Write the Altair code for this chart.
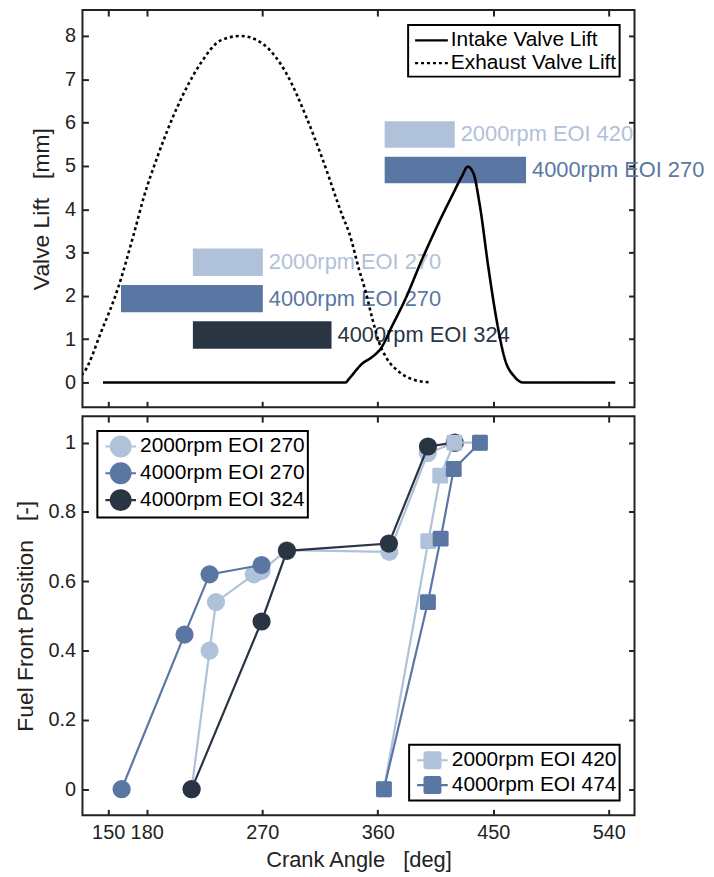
import altair as alt
import pandas as pd

# ---------------- data ----------------
XTICKS = [150, 180, 270, 360, 450, 540]

exh_deg = [112, 122, 128, 131.5, 144.6, 157.5, 170.3, 178, 188.4, 203.9, 221.9, 237.3, 253.3,
           270.8, 288.9, 304.3, 317.2, 332.6, 337.8, 345.5, 350.7, 355.8, 361, 366.1, 376.4, 389.3, 401]
exh_lift = [0.0, 0.05, 0.14, 0.25, 1.17, 2.16, 3.46, 4.3, 5.21, 6.36, 7.36, 7.89, 8.0,
            7.81, 7.13, 6.13, 5.14, 3.84, 3.45, 2.6, 2.08, 1.47, 0.93, 0.6, 0.25, 0.05, 0.0]

int_deg = [146, 335, 337.8, 348.1, 355.8, 362.3, 371.3, 381.6, 394.5, 410, 417.7, 425.4, 430.1,
           434.5, 439.6, 446, 452.4, 458.9, 466.6, 473, 545]
int_lift = [0, 0, 0.09, 0.44, 0.59, 0.78, 1.31, 1.93, 2.84, 3.84, 4.3, 4.75, 4.98,
            4.83, 4.07, 2.69, 1.47, 0.55, 0.13, 0, 0]

bar_labels = ["2000rpm EOI 270", "4000rpm EOI 270", "4000rpm EOI 324", "2000rpm EOI 420", "4000rpm EOI 270"]
bar_start = [216, 160, 216, 365.4, 365.4]
bar_end = [270.5, 270.5, 324, 420, 475.5]
bar_lo = [2.46, 1.62, 0.78, 5.42, 4.6]
bar_hi = [3.09, 2.25, 1.41, 6.03, 5.21]

circ_names = ["2000rpm EOI 270", "4000rpm EOI 270", "4000rpm EOI 324"]
c1_deg = [215, 229, 234, 263.5, 269.5, 289, 369, 399, 420]
c1_val = [0, 0.40, 0.54, 0.62, 0.63, 0.69, 0.685, 0.97, 1.0]
c2_deg = [160.5, 209.5, 229, 269.5]
c2_val = [0, 0.446, 0.62, 0.647]
c3_deg = [215, 269.5, 289.3, 368.7, 399.1, 420]
c3_val = [0, 0.484, 0.688, 0.709, 0.989, 1.0]

sq_names = ["2000rpm EOI 420", "4000rpm EOI 474"]
s1_deg = [364.8, 399.4, 408.7, 419.7, 439.6]
s1_val = [0, 0.716, 0.905, 1.0, 1.0]
s2_deg = [364.8, 399.1, 409.0, 419.2, 439.6]
s2_val = [0, 0.54, 0.723, 0.924, 1.0]

# ---------------- styles ----------------
LIGHT, MID, DARK = "#b0c1da", "#5a77a3", "#2a3543"
INK = "#222222"
FONT = "Liberation Sans"

X_SCALE = alt.Scale(domain=[130, 560], nice=False, zero=False)
Y1_SCALE = alt.Scale(domain=[-0.573, 8.596], nice=False, zero=False)
Y2_SCALE = alt.Scale(domain=[-0.0754, 1.0765], nice=False, zero=False)

AX = dict(offset=-6, tickSize=6, tickWidth=2, tickColor=INK, domain=False, grid=False,
          labelFontSize=20, labelColor=INK, labelFont=FONT, titleFont=FONT,
          titleFontSize=22, titleFontWeight="normal", titleColor=INK)


def x_main(labels, title):
    if labels:
        return alt.Axis(orient="bottom", values=XTICKS, labels=True, labelPadding=7,
                        title=title, titlePadding=8, **AX)
    return alt.Axis(orient="bottom", values=XTICKS, labels=False, title=None,
                    minExtent=0, maxExtent=0, **AX)


def y_main(values, title, fmt):
    return alt.Axis(orient="left", values=values, labelPadding=7, title=title,
                    titlePadding=11, format=fmt, **dict(AX, titleFontSize=23))


def mirror_x():
    return alt.Axis(orient="top", values=XTICKS, labels=False, title=None,
                    minExtent=0, maxExtent=0, **AX)


def mirror_y(values):
    return alt.Axis(orient="right", values=values, labels=False, title=None,
                    minExtent=0, maxExtent=0, **AX)


LEG = dict(title=None, labelFontSize=21, labelFont=FONT, labelColor="black",
           strokeColor="black", fillColor="white", padding=3, labelLimit=400,
           symbolSize=484, symbolStrokeWidth=2.2, offset=15,
           symbolOffset=8, labelOffset=7)

K = 0.9 * 0.5523
LINE_SYM = "M-1.5,0H1.5"
CIRC_SYM = ("M-1.4,0H1.4M0.9,0C0.9,{k} {k},0.9 0,0.9C-{k},0.9 -0.9,{k} -0.9,0"
            "C-0.9,-{k} -{k},-0.9 0,-0.9C{k},-0.9 0.9,-{k} 0.9,0Z").format(k=round(K, 4))
SQ_SYM = "M-1.4,0H1.4M-0.58,-0.72H0.58Q0.72,-0.72 0.72,-0.58V0.58Q0.72,0.72 0.58,0.72H-0.58Q-0.72,0.72 -0.72,0.58V-0.58Q-0.72,-0.72 -0.58,-0.72Z"
SQ_SHAPE = "M-0.8,-1H0.8Q1,-1 1,-0.8V0.8Q1,1 0.8,1H-0.8Q-1,1 -1,0.8V-0.8Q-1,-1 -0.8,-1Z"

# ---------------- top panel ----------------
exh_df = pd.DataFrame({"deg": exh_deg, "lift": exh_lift, "valve": "Exhaust Valve Lift"})
int_df = pd.DataFrame({"deg": int_deg, "lift": int_lift, "valve": "Intake Valve Lift"})
bar_df = pd.DataFrame({"label": bar_labels, "start": bar_start, "end": bar_end,
                       "lo": bar_lo, "hi": bar_hi})
bar_df["mid"] = (bar_df["lo"] + bar_df["hi"]) / 2

bar_color = alt.Color("label:N", legend=None,
                      scale=alt.Scale(domain=["2000rpm EOI 270", "4000rpm EOI 270",
                                              "4000rpm EOI 324", "2000rpm EOI 420"],
                                      range=[LIGHT, MID, DARK, LIGHT]))

dash = alt.StrokeDash("valve:N",
                      scale=alt.Scale(domain=["Intake Valve Lift", "Exhaust Valve Lift"],
                                      range=[[1, 0], [3, 3]]),
                      legend=alt.Legend(orient="top-right", symbolType=LINE_SYM,
                                        symbolStrokeColor="black", rowPadding=0, **LEG))

bars = alt.Chart(bar_df).mark_bar().encode(
    x=alt.X("start:Q", scale=X_SCALE, axis=None), x2="end:Q",
    y=alt.Y("lo:Q", scale=Y1_SCALE, axis=None), y2="hi:Q",
    color=bar_color)

bar_text = alt.Chart(bar_df).mark_text(align="left", baseline="middle", dx=6,
                                       fontSize=22, font=FONT).encode(
    x=alt.X("end:Q", scale=X_SCALE, axis=None),
    y=alt.Y("mid:Q", scale=Y1_SCALE, axis=None),
    text="label:N", color=bar_color)

exh_line = alt.Chart(exh_df).mark_line(clip=True, color="black", strokeWidth=2.6,
                                       interpolate="monotone").encode(
    x=alt.X("deg:Q", scale=X_SCALE, axis=None),
    y=alt.Y("lift:Q", scale=Y1_SCALE, axis=None),
    strokeDash=dash)

int_line = alt.Chart(int_df).mark_line(clip=True, color="black", strokeWidth=2.6,
                                       interpolate="monotone").encode(
    x=alt.X("deg:Q", scale=X_SCALE, axis=x_main(False, None)),
    y=alt.Y("lift:Q", scale=Y1_SCALE,
            axis=y_main(list(range(0, 9)), "Valve Lift\u00a0\u00a0\u00a0[mm]", "d")),
    strokeDash=dash)

top_mirror = alt.Chart(int_df).mark_point(opacity=0).encode(
    x=alt.X("deg:Q", scale=X_SCALE, axis=mirror_x()),
    y=alt.Y("lift:Q", scale=Y1_SCALE, axis=mirror_y(list(range(0, 9)))))

top = alt.layer(bars, bar_text, exh_line, int_line, top_mirror).resolve_axis(
    x="independent", y="independent").properties(width=556, height=400)

# ---------------- bottom panel ----------------
YT2 = [0, 0.2, 0.4, 0.6, 0.8, 1]

circ_color = alt.Color("series:N",
                       scale=alt.Scale(domain=circ_names, range=[LIGHT, MID, DARK]),
                       legend=alt.Legend(orient="top-left", symbolType=CIRC_SYM,
                                         rowPadding=-14, **LEG))
sq_color = alt.Color("series2:N",
                     scale=alt.Scale(domain=sq_names, range=[LIGHT, MID]),
                     legend=alt.Legend(orient="bottom-right", symbolType=SQ_SYM,
                                       rowPadding=0, **LEG))

circ_layers = []
for name, d, v in zip(circ_names, [c1_deg, c2_deg, c3_deg], [c1_val, c2_val, c3_val]):
    df = pd.DataFrame({"deg": d, "val": v, "series": name})
    ln = alt.Chart(df).mark_line(strokeWidth=2.2).encode(
        x=alt.X("deg:Q", scale=X_SCALE, axis=None),
        y=alt.Y("val:Q", scale=Y2_SCALE, axis=None),
        color=circ_color)
    pt = alt.Chart(df).mark_point(filled=True, size=336, opacity=1).encode(
        x=alt.X("deg:Q", scale=X_SCALE, axis=None),
        y=alt.Y("val:Q", scale=Y2_SCALE, axis=None),
        color=circ_color)
    circ_layers += [ln, pt]

sq_layers = []
for name, d, v in zip(sq_names, [s1_deg, s2_deg], [s1_val, s2_val]):
    df = pd.DataFrame({"deg": d, "val": v, "series2": name})
    ln = alt.Chart(df).mark_line(strokeWidth=2.2).encode(
        x=alt.X("deg:Q", scale=X_SCALE, axis=None),
        y=alt.Y("val:Q", scale=Y2_SCALE, axis=None),
        color=sq_color)
    pt = alt.Chart(df).mark_point(filled=True, size=256, opacity=1, shape=SQ_SHAPE).encode(
        x=alt.X("deg:Q", scale=X_SCALE, axis=None),
        y=alt.Y("val:Q", scale=Y2_SCALE, axis=None),
        color=sq_color)
    sq_layers += [ln, pt]

axes_df = pd.DataFrame({"deg": c1_deg, "val": c1_val})
bot_main = alt.Chart(axes_df).mark_point(opacity=0).encode(
    x=alt.X("deg:Q", scale=X_SCALE, axis=x_main(True, "Crank Angle\u00a0\u00a0\u00a0[deg]")),
    y=alt.Y("val:Q", scale=Y2_SCALE,
            axis=y_main(YT2, "Fuel Front Position\u00a0\u00a0\u00a0[-]", "~g")))
bot_mirror = alt.Chart(axes_df).mark_point(opacity=0).encode(
    x=alt.X("deg:Q", scale=X_SCALE, axis=mirror_x()),
    y=alt.Y("val:Q", scale=Y2_SCALE, axis=mirror_y(YT2)))

bottom = alt.layer(bot_main, bot_mirror, alt.layer(*circ_layers), alt.layer(*sq_layers)).resolve_scale(
    color="independent").resolve_axis(x="independent", y="independent").properties(
    width=556, height=402)

chart = alt.vconcat(top, bottom, spacing=5).resolve_scale(
    color="independent", strokeDash="independent").properties(
    padding={"left": 5, "top": -3, "right": 0, "bottom": 2}).configure(
    font=FONT).configure_view(stroke=INK, strokeWidth=2).configure_legend(strokeWidth=2)

chart.save("out.html", embed_options={"renderer": "svg", "actions": False})
